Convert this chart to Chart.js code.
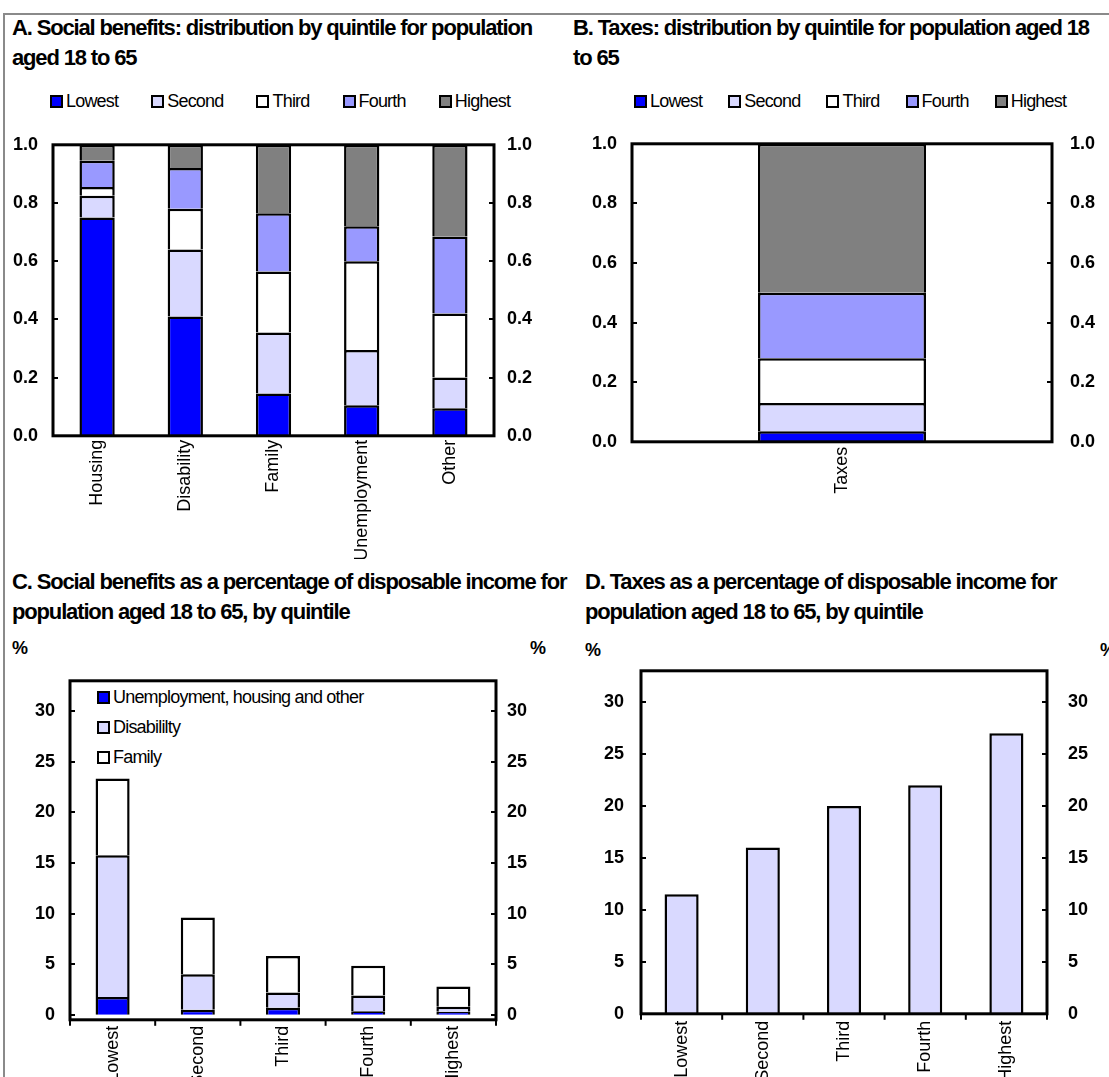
<!DOCTYPE html>
<html>
<head>
<meta charset="utf-8">
<script src="https://cdn.jsdelivr.net/npm/chart.js@4.4.1/dist/chart.umd.min.js"></script>
<style>
  html, body { margin: 0; padding: 0; background: #fff; }
  body { width: 1109px; height: 1077px; position: relative; overflow: hidden;
         font-family: "Liberation Sans", Arial, sans-serif; color: #000; }
  .frame { position: absolute; left: 3px; top: 13px; width: 1200px; height: 1200px;
           border-left: 2px solid #8a8a8a; border-top: 2px solid #8a8a8a; }
  .title { position: absolute; font-weight: bold; font-size: 22px; line-height: 30px;
           letter-spacing: -1.15px; white-space: nowrap; }
  .unit { position: absolute; font-weight: bold; font-size: 18px; line-height: 20px; }
  .legend { position: absolute; display: flex; font-size: 18px; letter-spacing: -0.8px;
            white-space: nowrap; line-height: 20px; }
  .legend .item { display: flex; align-items: center; }
  .legend.col { flex-direction: column; line-height: 30px; }
  .sw { width: 9px; height: 9px; border: 2px solid #000; margin-right: 3px; }
  canvas { position: absolute; }
</style>
</head>
<body>
<div class="frame"></div>

<div class="title" style="left:12px; top:13px;">A. Social benefits: distribution by quintile for population<br>aged 18 to 65</div>
<div class="title" style="left:573px; top:13px;">B. Taxes: distribution by quintile for population aged 18<br>to 65</div>
<div class="title" style="left:12px; top:567px;">C. Social benefits as a percentage of disposable income for<br>population aged 18 to 65, by quintile</div>
<div class="title" style="left:585px; top:567px;">D. Taxes as a percentage of disposable income for<br>population aged 18 to 65, by quintile</div>

<div class="unit" style="left:12px; top:638px;">%</div>
<div class="unit" style="left:530px; top:638px;">%</div>
<div class="unit" style="left:585px; top:640px;">%</div>
<div class="unit" style="left:1100px; top:640px;">%</div>

<div id="legendA" class="legend" style="left:50px; top:91px; gap:33px;"></div>
<div id="legendB" class="legend" style="left:634px; top:91px; gap:26px;"></div>
<div id="legendC" class="legend col" style="left:97px; top:682px;"></div>

<canvas id="chartA" width="555" height="440" style="left:0px; top:120px;"></canvas>
<canvas id="chartB" width="549" height="440" style="left:560px; top:120px;"></canvas>
<canvas id="chartC" width="560" height="480" style="left:0px; top:640px;"></canvas>
<canvas id="chartD" width="549" height="480" style="left:560px; top:630px;"></canvas>

<script>
// ---- Data ----
const quintiles = ['Lowest', 'Second', 'Third', 'Fourth', 'Highest'];
const benefitTypes = ['Housing', 'Disability', 'Family', 'Unemployment', 'Other'];

// Panel A: share of each benefit received by each quintile
const benefitShareLowest  = [0.75, 0.41, 0.145, 0.105, 0.095];
const benefitShareSecond  = [0.075, 0.23, 0.21, 0.19, 0.105];
const benefitShareThird   = [0.03, 0.14, 0.21, 0.305, 0.22];
const benefitShareFourth  = [0.09, 0.14, 0.20, 0.12, 0.265];
const benefitShareHighest = [0.055, 0.08, 0.235, 0.28, 0.315];

// Panel B: share of taxes paid by each quintile
const taxCategories = ['Taxes'];
const taxShareByQuintile = [0.035, 0.095, 0.15, 0.22, 0.50];

// Panel C: benefits as % of disposable income
const benefitGroups = ['Unemployment, housing and other', 'Disabililty', 'Family'];
const pctUnempHousingOther = [1.75, 0.5, 0.7, 0.35, 0.3];
const pctDisability        = [14.0, 3.5, 1.5, 1.55, 0.5];
const pctFamily            = [7.6, 5.6, 3.6, 2.95, 2.0];

// Panel D: taxes as % of disposable income
const pctTaxes = [11.5, 16, 20, 22, 27];

// Axis ticks
const shareTicks = [0, 0.2, 0.4, 0.6, 0.8, 1.0];
const pctTicks = [0, 5, 10, 15, 20, 25, 30];

// ---- Styles ----
const quintileColors = ['#0000ff', '#d9d9ff', '#ffffff', '#9999ff', '#808080'];
const groupColors = ['#0000ff', '#d9d9ff', '#ffffff'];
const FONT = 'Liberation Sans, Arial, sans-serif';

// ---- HTML legends ----
function buildLegend(id, labels, colors) {
  const el = document.getElementById(id);
  labels.forEach((lab, i) => {
    const item = document.createElement('div');
    item.className = 'item';
    const sw = document.createElement('span');
    sw.className = 'sw';
    sw.style.background = colors[i];
    const tx = document.createElement('span');
    tx.textContent = lab;
    item.appendChild(sw);
    item.appendChild(tx);
    el.appendChild(item);
  });
}
buildLegend('legendA', quintiles, quintileColors);
buildLegend('legendB', quintiles, quintileColors);
buildLegend('legendC', benefitGroups, groupColors);

// ---- Plot frame, inward value ticks and outward category ticks ----
const framePlugin = {
  id: 'frame',
  afterDraw(chart, args, o) {
    const { ctx, chartArea: a } = chart;
    ctx.save();
    ctx.strokeStyle = '#000';
    ctx.lineWidth = 2;
    ['y', 'y2'].forEach(id => {
      const s = chart.scales[id];
      s.ticks.forEach(t => {
        const y = Math.round(s.getPixelForValue(t.value));
        ctx.beginPath();
        if (id === 'y') { ctx.moveTo(a.left, y); ctx.lineTo(a.left + o.tick, y); }
        else { ctx.moveTo(a.right, y); ctx.lineTo(a.right - o.tick, y); }
        ctx.stroke();
      });
    });
    if (o.xTicks) {
      const n = chart.scales.x.getLabels().length;
      for (let i = 0; i <= n; i++) {
        const x = a.left + i * (a.right - a.left) / n;
        ctx.beginPath();
        ctx.moveTo(x, a.bottom);
        ctx.lineTo(x, a.bottom + 6);
        ctx.stroke();
      }
    }
    ctx.lineWidth = 3;
    ctx.strokeRect(a.left, a.top, a.right - a.left, a.bottom - a.top);
    ctx.restore();
  }
};

function makeChart(canvasId, cfg) {
  const yCommon = (pos, width, pad) => ({
    position: pos,
    stacked: true,
    min: cfg.yMin, max: cfg.yMax,
    afterBuildTicks: s => { s.ticks = cfg.yTicks.map(v => ({ value: v })); },
    ticks: {
      padding: pad,
      color: '#000',
      font: { family: FONT, size: 18, weight: 'bold' },
      callback: cfg.yFormat
    },
    grid: { display: false, drawTicks: false },
    border: { display: false },
    afterFit: s => { s.width = width; }
  });
  cfg.xHeight = 100;
  const canvas = document.getElementById(canvasId);
  const chart = new Chart(canvas, {
    type: 'bar',
    data: { labels: cfg.labels, datasets: cfg.datasets },
    options: {
      responsive: false,
      maintainAspectRatio: false,
      animation: false,
      events: [],
      layout: { padding: 0 },
      plugins: {
        legend: { display: false },
        tooltip: { enabled: false },
        frame: { tick: 5, xTicks: cfg.xTicks }
      },
      datasets: { bar: { categoryPercentage: 1.0, barPercentage: cfg.barPct } },
      scales: {
        x: {
          stacked: true,
          grid: { display: false, drawTicks: false },
          border: { display: false },
          ticks: {
            autoSkip: false, maxRotation: 90, minRotation: 90, padding: cfg.xPad,
            color: '#000', font: { family: FONT, size: 18 }
          },
          afterFit: s => { s.height = cfg.xHeight; }
        },
        y: yCommon('left', cfg.leftW, cfg.leftPad),
        y2: Object.assign(yCommon('right', cfg.rightW, cfg.rightPad), { stacked: false })
      }
    },
    plugins: [framePlugin]
  });
  // Position the canvas so the plot box spans the requested page rows
  const off = chart.chartArea.top;
  const canvasTop = cfg.plotTop - off;
  canvas.style.top = canvasTop + 'px';
  cfg.xHeight = chart.height - (cfg.plotBottom - canvasTop);
  chart.update();
  return chart;
}

const barStyle = (color) => ({ backgroundColor: color, borderColor: '#000', borderWidth: 2.5, yAxisID: 'y' });
const oneDecimal = v => Number(v).toFixed(1);
const integer = v => String(v);

// Panel A
makeChart('chartA', {
  labels: benefitTypes,
  datasets: [
    Object.assign({ label: quintiles[0], data: benefitShareLowest }, barStyle(quintileColors[0])),
    Object.assign({ label: quintiles[1], data: benefitShareSecond }, barStyle(quintileColors[1])),
    Object.assign({ label: quintiles[2], data: benefitShareThird }, barStyle(quintileColors[2])),
    Object.assign({ label: quintiles[3], data: benefitShareFourth }, barStyle(quintileColors[3])),
    Object.assign({ label: quintiles[4], data: benefitShareHighest }, barStyle(quintileColors[4]))
  ],
  yMin: 0, yMax: 1, yTicks: shareTicks, yFormat: oneDecimal,
  plotTop: 145, plotBottom: 436,
  leftW: 53, rightW: 61, leftPad: 15, rightPad: 13,
  xPad: 4, barPct: 0.4, xTicks: false
});

// Panel B
makeChart('chartB', {
  labels: taxCategories,
  datasets: quintiles.map((q, i) =>
    Object.assign({ label: q, data: [taxShareByQuintile[i]] }, barStyle(quintileColors[i]))),
  yMin: 0, yMax: 1, yTicks: shareTicks, yFormat: oneDecimal,
  plotTop: 144, plotBottom: 442,
  leftW: 72, rightW: 57, leftPad: 15, rightPad: 18,
  xPad: 5, barPct: 0.4, xTicks: false
});

// Panel C
makeChart('chartC', {
  labels: quintiles,
  datasets: [
    Object.assign({ label: benefitGroups[0], data: pctUnempHousingOther }, barStyle(groupColors[0])),
    Object.assign({ label: benefitGroups[1], data: pctDisability }, barStyle(groupColors[1])),
    Object.assign({ label: benefitGroups[2], data: pctFamily }, barStyle(groupColors[2]))
  ],
  yMin: -0.5, yMax: 33, yTicks: pctTicks, yFormat: integer,
  plotTop: 681, plotBottom: 1020,
  leftW: 70, rightW: 64, leftPad: 15, rightPad: 11,
  xPad: 6, barPct: 0.4, xTicks: true
});

// Panel D
makeChart('chartD', {
  labels: quintiles,
  datasets: [
    Object.assign({ label: 'Taxes', data: pctTaxes }, barStyle('#d9d9ff'))
  ],
  yMin: 0, yMax: 33, yTicks: pctTicks, yFormat: integer,
  plotTop: 671, plotBottom: 1014,
  leftW: 81, rightW: 62, leftPad: 17, rightPad: 21,
  xPad: 7, barPct: 0.42, xTicks: true
});
</script>
</body>
</html>
